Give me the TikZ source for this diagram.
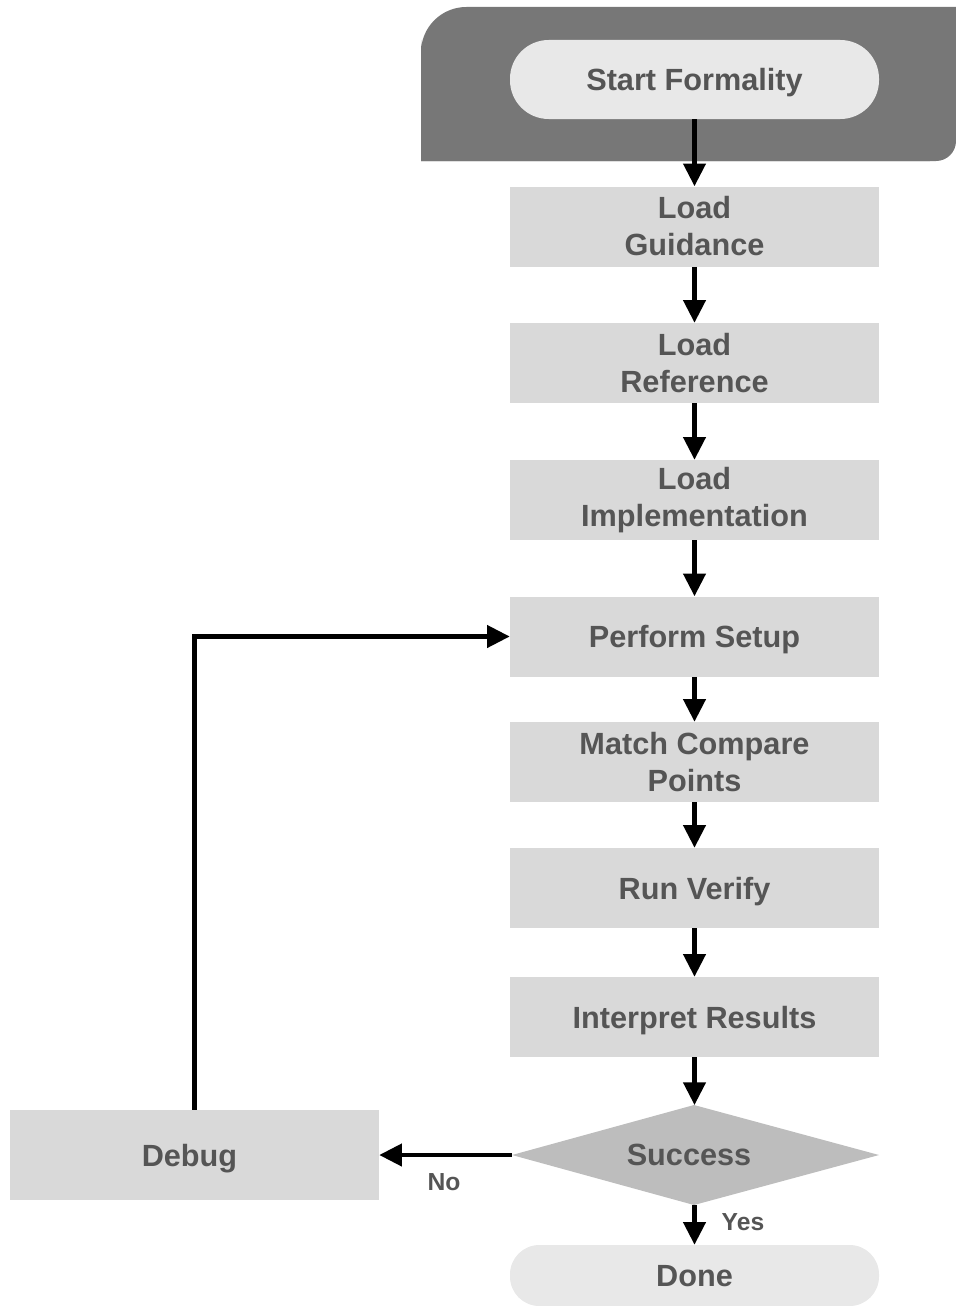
\documentclass[tikz,border=0pt]{standalone}
\usepackage{fontspec}
\setmainfont{Liberation Sans}
\usetikzlibrary{arrows.meta}
\definecolor{darkbg}{HTML}{777777}
\definecolor{boxfill}{HTML}{D9D9D9}
\definecolor{pillfill}{HTML}{E8E8E8}
\definecolor{diafill}{HTML}{BDBDBD}
\definecolor{txt}{HTML}{555555}
\tikzset{
  stepbox/.style={fill=boxfill, draw=none, minimum width=276.75pt, minimum height=60pt, inner sep=0pt, align=center, text=txt, font=\fontsize{23}{27.75}\selectfont\bfseries},
  onebox/.style={stepbox, text depth=0pt},
  pill/.style={onebox, fill=pillfill, rounded corners=29pt, minimum height=59.25pt},
  lbl/.style={text=txt, font=\fontsize{18.5}{22}\selectfont\bfseries, inner sep=0pt},
  arr/.style={line width=3.2pt, -{Triangle[width=16.5pt,length=17pt]}}
}
\begin{document}
\begin{tikzpicture}[x=0.75pt,y=-0.75pt]
\useasboundingbox (0,0) rectangle (956,1306);
\begin{scope}
\clip (0,0) rectangle (956,1306);
% dark background panel
\fill[darkbg] (421,161) -- (421,40) [rounded corners=34pt] -- (421,7) [sharp corners] -- (990,7) -- (990,161) -- cycle;
\fill[white] (930,135) rectangle (960,165);
\fill[darkbg] (421,135) -- (956,135) [rounded corners=15pt] -- (956,161) [sharp corners] -- (421,161) -- cycle;
\node[pill] (start) at (694.5,79.5) {Start Formality};
\node[stepbox] (guid) at (694.5,226.5) {Load\\Guidance};
\node[stepbox] (ref) at (694.5,363) {Load\\Reference};
\node[stepbox] (impl) at (694.5,500) {Load\\Implementation};
\node[onebox] (setup) at (694.5,636.5) {Perform Setup};
\node[stepbox] (match) at (694.5,762) {Match Compare\\Points};
\node[onebox] (run) at (694.5,888) {Run Verify};
\node[onebox] (interp) at (694.5,1017) {Interpret Results};
\fill[diafill] (512,1155) -- (694,1105) -- (879,1155) -- (694,1205) -- cycle;
\coordinate (diaL) at (512,1155);
\coordinate (diaT) at (694.5,1105);
\coordinate (diaB) at (694.5,1205);
\node[text=txt, font=\fontsize{23}{27.75}\selectfont\bfseries, inner sep=0pt, text depth=0pt] (succ) at (689,1155) {Success};
\node[pill, minimum height=45.75pt, rounded corners=22pt] (done) at (694.5,1275.5) {Done};
\node[onebox, minimum height=67.5pt] (debug) at (194.5,1155) {Debug\hspace*{7.5pt}};
\draw[arr] (start.south) -- (guid.north);
\draw[arr] (guid.south) -- (ref.north);
\draw[arr] (ref.south) -- (impl.north);
\draw[arr] (impl.south) -- (setup.north);
\draw[arr] (setup.south) -- (match.north);
\draw[arr] (match.south) -- (run.north);
\draw[arr] (run.south) -- (interp.north);
\draw[arr] (interp.south) -- (diaT);
\draw[arr] (diaB) -- (done.north);
\draw[arr] (diaL) -- (debug.east);
\draw[arr] (debug.north) |- (setup.west);
\node[lbl] (no) at (444,1182) {No};
\node[lbl] (yes) at (743,1222) {Yes};
\end{scope}
\end{tikzpicture}
\end{document}
